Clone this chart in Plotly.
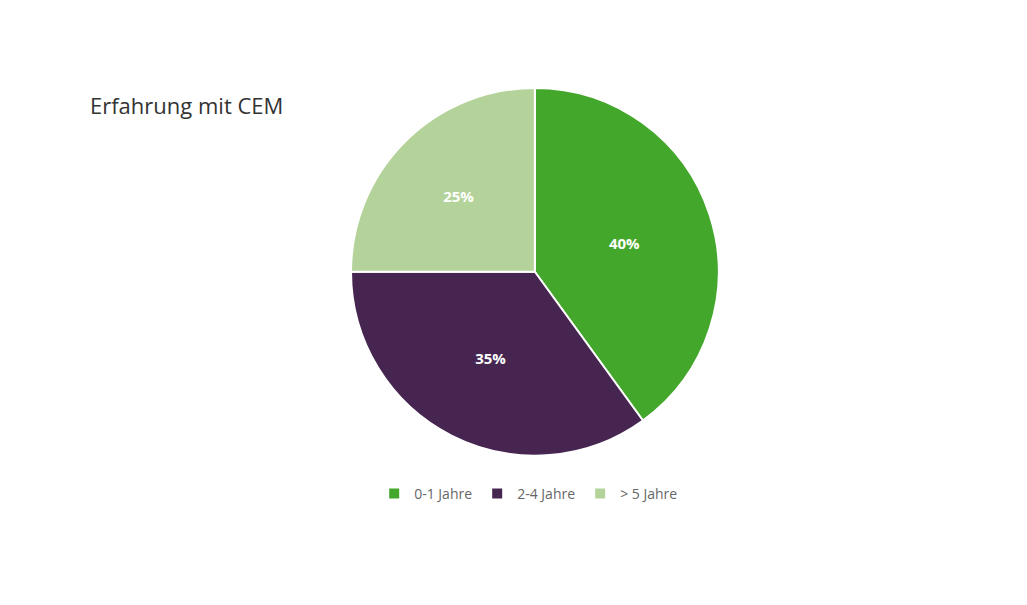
import plotly.graph_objects as go

labels = ["0-1 Jahre", "2-4 Jahre", "> 5 Jahre"]
values = [40, 35, 25]
colors = ["#43a72b", "#462651", "#b3d39a"]

fig = go.Figure(go.Pie(
    labels=labels, values=values, sort=False, direction="clockwise", rotation=0,
    marker=dict(colors=colors, line=dict(color="white", width=2)),
    textinfo="percent", textposition="inside", insidetextorientation="horizontal",
    textfont=dict(color="white", size=15, family="Open Sans"),
    texttemplate="<b>%{percent:.0%}</b>",
    domain=dict(x=[0.334, 0.692], y=[0.26, 0.868]),
))
fig.update_layout(
    width=1027, height=605, margin=dict(l=0, r=0, t=0, b=0),
    paper_bgcolor="white", plot_bgcolor="white",
    font=dict(family="Open Sans"),
    showlegend=True,
    legend=dict(orientation="h", x=0.507, xanchor="center", y=1-486/605, yanchor="middle",
                font=dict(size=14, color="#666")),
    annotations=[dict(text="Erfahrung mit CEM", x=80/1027, y=1-97/605, xref="paper", yref="paper",
                      xanchor="left", yanchor="middle", showarrow=False,
                      font=dict(size=22, color="#333", family="Open Sans"))],
)
fig.write_html("out.html")
